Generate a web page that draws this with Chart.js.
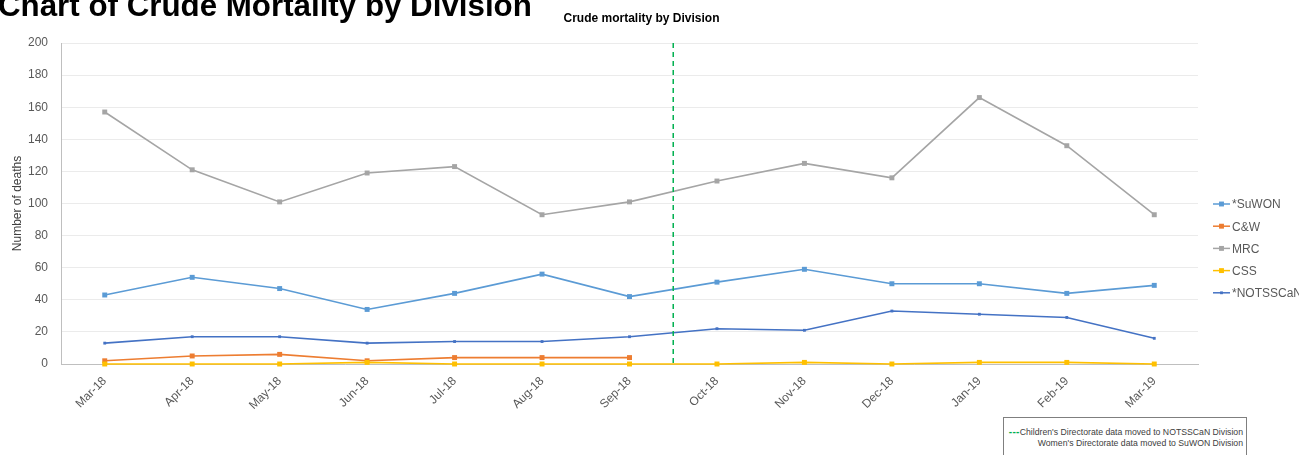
<!DOCTYPE html>
<html>
<head>
<meta charset="utf-8">
<title>Crude mortality by Division</title>
<script src="https://cdn.jsdelivr.net/npm/chart.js@4.4.1/dist/chart.umd.min.js"></script>
<style>
html, body { margin: 0; padding: 0; background: #fff; overflow: hidden; }
#wrap { position: relative; width: 1299px; height: 455px; }
#pageTitle { position: absolute; left: -2px; top: -10px; font: bold 31.3px "Liberation Sans", Arial, sans-serif; line-height: 31px; color: #000; white-space: nowrap; z-index: 2; }
#note { position: absolute; left: 1003px; top: 417px; width: 244px; height: 50px; box-sizing: border-box; border: 1px solid #7f7f7f; padding: 8px 3px 0 0; text-align: right; font: 8.7px "Liberation Sans", Arial, sans-serif; line-height: 11px; color: #404040; white-space: nowrap; background: #fff; }
#note .dash { color: #00b050; font-size: 10px; font-weight: bold; letter-spacing: 0.3px; }
canvas { position: absolute; left: 0; top: 0; }
</style>
</head>
<body>
<div id="wrap">
  <div id="pageTitle">Chart of Crude Mortality by Division</div>
  <canvas id="myChart" width="1299" height="455"></canvas>
  <div id="note">
    <div><span class="dash">---</span>Children's Directorate data moved to NOTSSCaN Division</div>
    <div>Women's Directorate data moved to SuWON Division</div>
  </div>
</div>
<script>
// DATA ----------------------------------------
const months = ['Mar-18', 'Apr-18', 'May-18', 'Jun-18', 'Jul-18', 'Aug-18', 'Sep-18',
                'Oct-18', 'Nov-18', 'Dec-18', 'Jan-19', 'Feb-19', 'Mar-19'];
const suwon    = [43, 54, 47, 34, 44, 56, 42, 51, 59, 50, 50, 44, 49];
const cw       = [2, 5, 6, 2, 4, 4, 4, null, null, null, null, null, null];
const mrc      = [157, 121, 101, 119, 123, 93, 101, 114, 125, 116, 166, 136, 93];
const css      = [0, 0, 0, 1, 0, 0, 0, 0, 1, 0, 1, 1, 0];
const notsscan = [13, 17, 17, 13, 14, 14, 17, 22, 21, 33, 31, 29, 16];

const seriesNames  = ['*SuWON', 'C&W', 'MRC', 'CSS', '*NOTSSCaN'];
const seriesData   = [suwon, cw, mrc, css, notsscan];
const seriesColors = ['#5b9bd5', '#ed7d31', '#a5a5a5', '#ffc000', '#4472c4'];
const markerSize   = [3.5, 3.5, 3.5, 3.5, 2];

const yMin = 0, yMax = 200, yStep = 20;
const chartTitle = 'Crude mortality by Division';
const yTitle = 'Number of deaths';
const changeAfter = 'Sep-18';   // directorate move happened after this month

const FONT = '"Liberation Sans", Arial, sans-serif';

// PLUGINS ----------------------------------------
//green dashed line between Sep-18 and Oct-18
const divisionLine = {
    id: 'divisionLine',
    afterDatasetsDraw(chart) {
        const x = chart.scales.x;
        const i = months.indexOf(changeAfter);
        const px = (x.getPixelForValue(i) + x.getPixelForValue(i + 1)) / 2;
        const c = chart.ctx;
        c.save();
        c.strokeStyle = '#00b050';
        c.lineWidth = 1.5;
        c.setLineDash([5, 4]);
        c.beginPath();
        c.moveTo(px, chart.chartArea.top);
        c.lineTo(px, chart.chartArea.bottom);
        c.stroke();
        c.restore();
    }
};

//title + legend on the right like excel
const excelBits = {
    id: 'excelBits',
    afterDraw(chart) {
        const c = chart.ctx;
        const a = chart.chartArea;
        c.save();
        c.fillStyle = '#000';
        c.font = 'bold 12px ' + FONT;
        c.textAlign = 'center';
        c.textBaseline = 'middle';
        c.fillText(chartTitle, (a.left + a.right) / 2 + 12, 19);

        c.font = '12px ' + FONT;
        c.textAlign = 'left';
        for (var i = 0; i < seriesNames.length; i++) {
            const y = 204 + i * 22.2;
            const x0 = a.right + 15;
            c.strokeStyle = seriesColors[i];
            c.lineWidth = 1.5;
            c.beginPath();
            c.moveTo(x0, y);
            c.lineTo(x0 + 17, y);
            c.stroke();
            c.fillStyle = seriesColors[i];
            const s = markerSize[i] * 1.4;
            c.fillRect(x0 + 8.5 - s / 2, y - s / 2, s, s);
            c.fillStyle = '#595959';
            c.fillText(seriesNames[i], x0 + 19, y + 1);
        }
        c.restore();
    }
};

// GRAPH ----------------------------------------
const datasets = seriesNames.map((name, i) => ({
    label: name,
    data: seriesData[i],
    borderColor: seriesColors[i],
    backgroundColor: seriesColors[i],
    borderWidth: 1.6,
    pointStyle: 'rect',
    pointRadius: markerSize[i],
    pointBorderWidth: 0,
    tension: 0,
    spanGaps: false,
    clip: false,
    order: seriesNames.length - i   // last series on top, as in excel
}));

const ctx = document.getElementById('myChart');
const chart = new Chart(ctx, {
    type: 'line',
    data: { labels: months, datasets: datasets },
    options: {
        responsive: false,
        animation: false,
        layout: { padding: { top: 43, right: 101, bottom: 0, left: 0 } },
        plugins: {
            legend: { display: false },
            title: { display: false },
            tooltip: { enabled: false }
        },
        scales: {
            x: {
                type: 'category',
                offset: true,
                grid: { display: false, drawTicks: false },
                border: { color: '#bfbfbf', width: 1 },
                ticks: {
                    color: '#595959',
                    font: { family: FONT, size: 12 },
                    minRotation: 45,
                    maxRotation: 45,
                    padding: 10,
                    autoSkip: false
                },
                afterFit(scale) { scale.height = 91; }
            },
            y: {
                min: yMin,
                max: yMax,
                grid: { color: '#ebebeb', lineWidth: 1, drawTicks: false },
                border: { color: '#bfbfbf', width: 1 },
                ticks: {
                    stepSize: yStep,
                    color: '#595959',
                    font: { family: FONT, size: 12 },
                    padding: 13
                },
                title: {
                    display: true,
                    text: yTitle,
                    color: '#404040',
                    font: { family: FONT, size: 12 },
                    padding: { top: 10, bottom: 0 }
                },
                afterFit(scale) { scale.width = 61; }
            }
        }
    },
    plugins: [divisionLine, excelBits]
});
</script>
</body>
</html>
